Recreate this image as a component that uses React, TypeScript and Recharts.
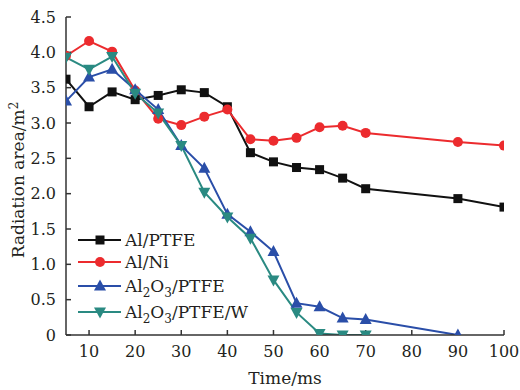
import { Legend, Line, LineChart, XAxis, YAxis, Label } from 'recharts'

const times = [5, 10, 15, 20, 25, 30, 35, 40, 45, 50, 55, 60, 65, 70, 90, 100]
const alPtfe = [3.62, 3.23, 3.44, 3.33, 3.39, 3.47, 3.43, 3.23, 2.58, 2.45, 2.37, 2.34, 2.22, 2.07, 1.93, 1.81]
const alNi = [3.95, 4.16, 4.01, 3.46, 3.06, 2.97, 3.09, 3.19, 2.77, 2.75, 2.79, 2.94, 2.96, 2.86, 2.73, 2.68]
const al2o3Ptfe = [3.31, 3.65, 3.76, 3.47, 3.19, 2.68, 2.36, 1.71, 1.46, 1.18, 0.45, 0.4, 0.24, 0.22, 0, null]
const al2o3PtfeW = [3.93, 3.76, 3.94, 3.42, 3.14, 2.68, 2.02, 1.67, 1.37, 0.78, 0.32, 0.02, 0, 0, null, null]

const xTicks = [10, 20, 30, 40, 50, 60, 70, 80, 90, 100]
const yTicks = [0, 0.5, 1, 1.5, 2, 2.5, 3, 3.5, 4, 4.5]

const BLACK = '#111111'
const RED = '#ec2b2e'
const BLUE = '#2a4ea8'
const TEAL = '#2a8a82'
const INK = '#231f20'
const FONT = 'DejaVu Serif'

const data = times.map((t, i) => ({
  t,
  alPtfe: alPtfe[i],
  alNi: alNi[i],
  al2o3Ptfe: al2o3Ptfe[i],
  al2o3PtfeW: al2o3PtfeW[i],
}))

type Mk = { cx?: number; cy?: number; fill: string }

const Square = ({ cx, cy, fill }: Mk) =>
  cx == null || cy == null ? null : <rect x={cx - 4.5} y={cy - 4.5} width={9} height={9} fill={fill} />
const Circle = ({ cx, cy, fill }: Mk) =>
  cx == null || cy == null ? null : <circle cx={cx} cy={cy} r={5} fill={fill} />
const TriUp = ({ cx, cy, fill }: Mk) =>
  cx == null || cy == null ? null : (
    <polygon points={`${cx},${cy - 6.5} ${cx - 6},${cy + 4.5} ${cx + 6},${cy + 4.5}`} fill={fill} />
  )
const TriDown = ({ cx, cy, fill }: Mk) =>
  cx == null || cy == null ? null : (
    <polygon points={`${cx},${cy + 6.5} ${cx - 6},${cy - 4.5} ${cx + 6},${cy - 4.5}`} fill={fill} />
  )

const dotOf = (Shape: (p: Mk) => any, fill: string) => (p: any) =>
  <Shape key={p.key ?? `${p.index}`} cx={p.value == null ? undefined : p.cx} cy={p.value == null ? undefined : p.cy} fill={fill} />

const sub = (s: string) => (
  <tspan dy={5} fontSize={12}>
    {s}
  </tspan>
)

const legendRows = [
  { color: BLACK, Shape: Square, label: <tspan>Al/PTFE</tspan>, y: 15 },
  { color: RED, Shape: Circle, label: <tspan>Al/Ni</tspan>, y: 37 },
  {
    color: BLUE,
    Shape: TriUp,
    label: (
      <>
        Al{sub('2')}<tspan dy={-5}>O</tspan>{sub('3')}<tspan dy={-5}>/PTFE</tspan>
      </>
    ),
    y: 61,
  },
  {
    color: TEAL,
    Shape: TriDown,
    label: (
      <>
        Al{sub('2')}<tspan dy={-5}>O</tspan>{sub('3')}<tspan dy={-5}>/PTFE/W</tspan>
      </>
    ),
    y: 87,
  },
]

function LegendBox() {
  return (
    <svg width={200} height={105} style={{ display: 'block' }}>
      {legendRows.map((r, i) => (
        <g key={i}>
          <line x1={8} x2={51} y1={r.y} y2={r.y} stroke={r.color} strokeWidth={2} />
          <r.Shape cx={30} cy={r.y} fill={r.color} />
          <text x={55} y={r.y + 6} fontSize={17} fontFamily={FONT} fill={INK}>
            {r.label}
          </text>
        </g>
      ))}
    </svg>
  )
}

const tickStyle = { fill: INK, fontSize: 16, fontFamily: FONT }

export default function App() {
  return (
    <div style={{ position: 'absolute', left: 0, top: 0, width: 520, height: 390, background: '#fff' }}>
      <LineChart width={520} height={390} data={data} margin={{ top: 17, right: 16, bottom: 15, left: 6 }}>
        <XAxis
          dataKey="t"
          type="number"
          domain={[5, 100]}
          ticks={xTicks}
          allowDataOverflow
          height={40}
          tickSize={-5}
          tickMargin={16}
          stroke="#333"
          strokeWidth={1.5}
          tick={tickStyle}
        >
          <Label
            content={({ viewBox }: any) => (
              <text x={viewBox.x + viewBox.width / 2} y={viewBox.y + 49} textAnchor="middle" fontSize={17} fontFamily={FONT} fill={INK}>
                Time/ms
              </text>
            )}
          />
        </XAxis>
        <XAxis xAxisId="top" orientation="top" type="number" domain={[5, 100]} height={0} tick={false} tickLine={false} stroke="#333" strokeWidth={1.5} />
        <YAxis
          type="number"
          domain={[0, 4.5]}
          ticks={yTicks}
          allowDataOverflow
          width={60}
          tickSize={-5}
          tickMargin={15}
          stroke="#333"
          strokeWidth={1.5}
          tickFormatter={(v: number) => (v === 0 ? '0' : v.toFixed(1))}
          tick={tickStyle}
        >
          <Label
            content={({ viewBox }: any) => {
              const x = 24
              const y = viewBox.y + viewBox.height / 2 + 4
              return (
                <text x={x} y={y} transform={`rotate(-90 ${x} ${y})`} textAnchor="middle" fontSize={17} fontFamily={FONT} fill={INK}>
                  Radiation area/m
                  <tspan dy={-6} fontSize={12}>
                    2
                  </tspan>
                </text>
              )
            }}
          />
        </YAxis>
        <YAxis yAxisId="right" orientation="right" width={0} tick={false} tickLine={false} stroke="#333" strokeWidth={1.5} />
        <Legend
          layout="vertical"
          align="center"
          verticalAlign="middle"
          wrapperStyle={{ left: 70, top: 225, width: 200, height: 105 }}
          content={() => <LegendBox />}
        />
        <Line dataKey="alPtfe" stroke={BLACK} strokeWidth={2} dot={dotOf(Square, BLACK)} isAnimationActive={false} />
        <Line dataKey="alNi" stroke={RED} strokeWidth={2} dot={dotOf(Circle, RED)} isAnimationActive={false} />
        <Line dataKey="al2o3Ptfe" stroke={BLUE} strokeWidth={2} dot={dotOf(TriUp, BLUE)} isAnimationActive={false} />
        <Line dataKey="al2o3PtfeW" stroke={TEAL} strokeWidth={2} dot={dotOf(TriDown, TEAL)} isAnimationActive={false} />
      </LineChart>
    </div>
  )
}
